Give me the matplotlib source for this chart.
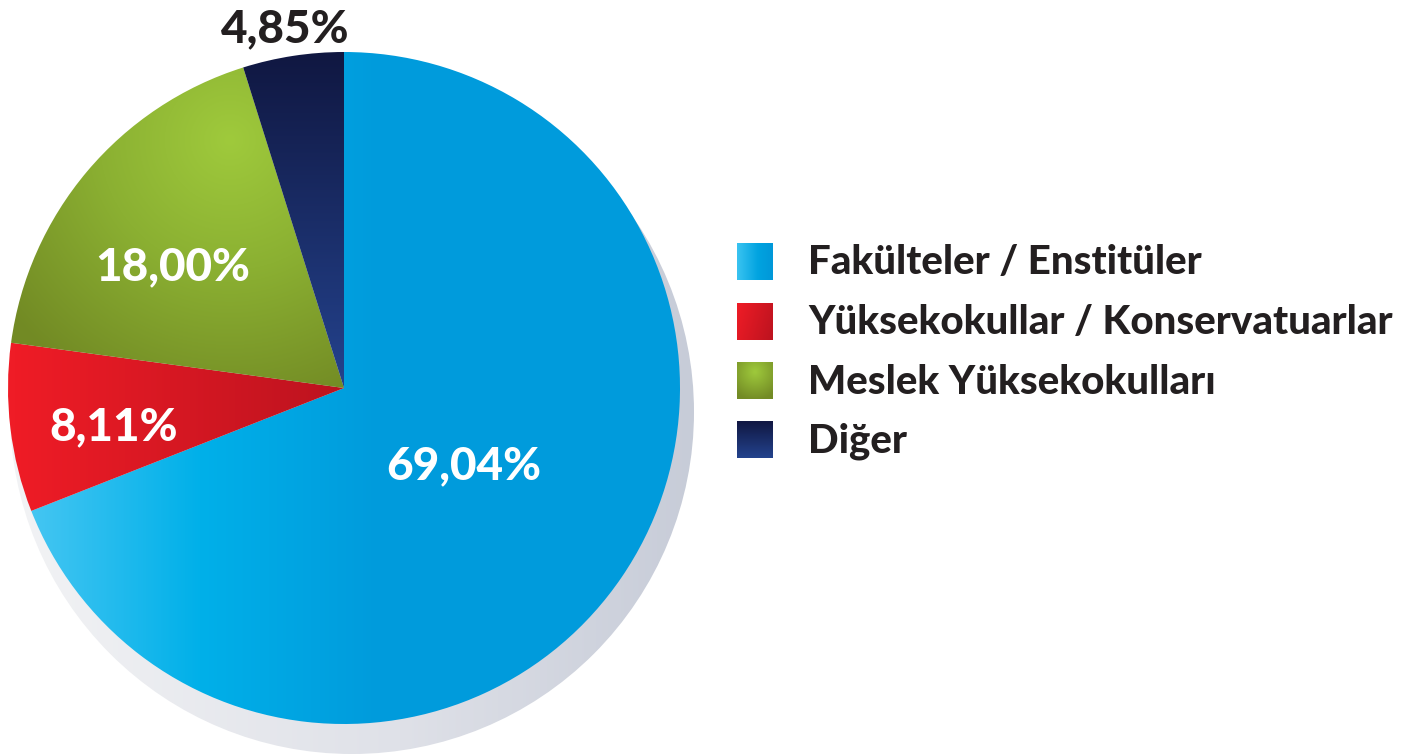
import numpy as np
import matplotlib.pyplot as plt
from matplotlib.patches import Circle
from matplotlib.colors import to_rgb

W, H = 1413, 756

# DATA -------------------
categories = ["Fakülteler / Enstitüler", "Yüksekokullar / Konservatuarlar",
              "Meslek Yüksekokulları", "Diğer"]
shares = [69.04, 8.11, 18.00, 4.85]
share_labels = ["69,04%", "8,11%", "18,00%", "4,85%"]

# STYLE -------------------
plt.rcParams['font.family'] = ['Lato', 'DejaVu Sans']
label_dist = [0.43, 0.69, 0.62, 1.085]
label_nudge = [(0, -3), (0, 12), (-12, 14), (-3, 2)]   # pixels
label_colors = ["white", "white", "white", "#231f20"]
cx, cy, R = 344, 388, 336

yy, xx = np.mgrid[0:H, 0:W] + 0.5


def ramp(t, stops):
    pos = [s[0] for s in stops]
    cols = np.array([to_rgb(s[1]) for s in stops])
    return np.dstack([np.interp(t, pos, cols[:, k]) for k in range(3)])


blue = ramp(xx, [(30, "#45c6f2"), (200, "#00b0e9"), (380, "#009bdc")])
red = ramp(xx, [(15, "#ef1c26"), (345, "#bc131f")])
green = ramp(np.hypot(xx - 230, yy - 140), [(0, "#9fca3c"), (130, "#8bb032"), (280, "#728a24")])
navy = ramp(yy, [(52, "#101741"), (390, "#24438e")])
grads = [blue, red, green, navy]

fig = plt.figure(figsize=(W / 100, H / 100), dpi=100)
ax = fig.add_axes([0, 0, 1, 1])

# shadow disc
shadow = Circle((352, 412), 342, transform=ax.transData, facecolor="none", edgecolor="none")
ax.add_patch(shadow)
sh = ax.imshow(ramp(xx, [(10, "#f2f3f5"), (400, "#dfe1e8"), (694, "#c7ccd8")]),
               extent=(0, W, H, 0), zorder=1, interpolation="bilinear")
sh.set_clip_path(shadow)

# y axis is inverted: start at -90 (screen top), counterclock in data = clockwise on screen
wedges, _ = ax.pie(shares, startangle=-90, counterclock=True, center=(cx, cy), radius=R,
                   wedgeprops=dict(linewidth=0, edgecolor="none", zorder=2))

for w, g, d, nud, lab, col in zip(wedges, grads, label_dist, label_nudge, share_labels, label_colors):
    w.set_facecolor("none")
    im = ax.imshow(g, extent=(0, W, H, 0), zorder=3, interpolation="bilinear")
    im.set_clip_path(w)
    mid = np.deg2rad((w.theta1 + w.theta2) / 2)
    ax.text(cx + d * R * np.cos(mid) + nud[0], cy + d * R * np.sin(mid) + nud[1], lab,
            color=col, fontsize=33, fontweight="black", ha="center", va="center", zorder=5)

# legend
sq_x, sq_w, sq_h = 737, 36, 37
leg_y = [262, 322, 381, 440]
for i, (name, y) in enumerate(zip(categories, leg_y)):
    sy, sx = np.mgrid[0:20, 0:20] / 19.0
    if i == 0:
        img = ramp(sx, [(0, "#38c2f0"), (0.6, "#00a3e0"), (1, "#0098d9")])
    elif i == 1:
        img = ramp(sx + 0.3 * sy, [(0, "#ee1c26"), (1.3, "#bd131f")])
    elif i == 2:
        img = ramp(np.hypot(sx - 0.5, sy - 0.25), [(0, "#9fca3c"), (0.8, "#738b25")])
    else:
        img = ramp(sy, [(0, "#111843"), (1, "#23428c")])
    ax.imshow(img, extent=(sq_x, sq_x + sq_w, y + sq_h / 2, y - sq_h / 2),
              zorder=4, interpolation="bilinear")
    ax.text(808, y + 1, name, color="#231f20", fontsize=29, fontweight="black",
            ha="left", va="center", zorder=5)

ax.set_xlim(0, W)
ax.set_ylim(H, 0)
ax.set_aspect("auto")
ax.axis("off")

plt.savefig("out.png", dpi=100)
